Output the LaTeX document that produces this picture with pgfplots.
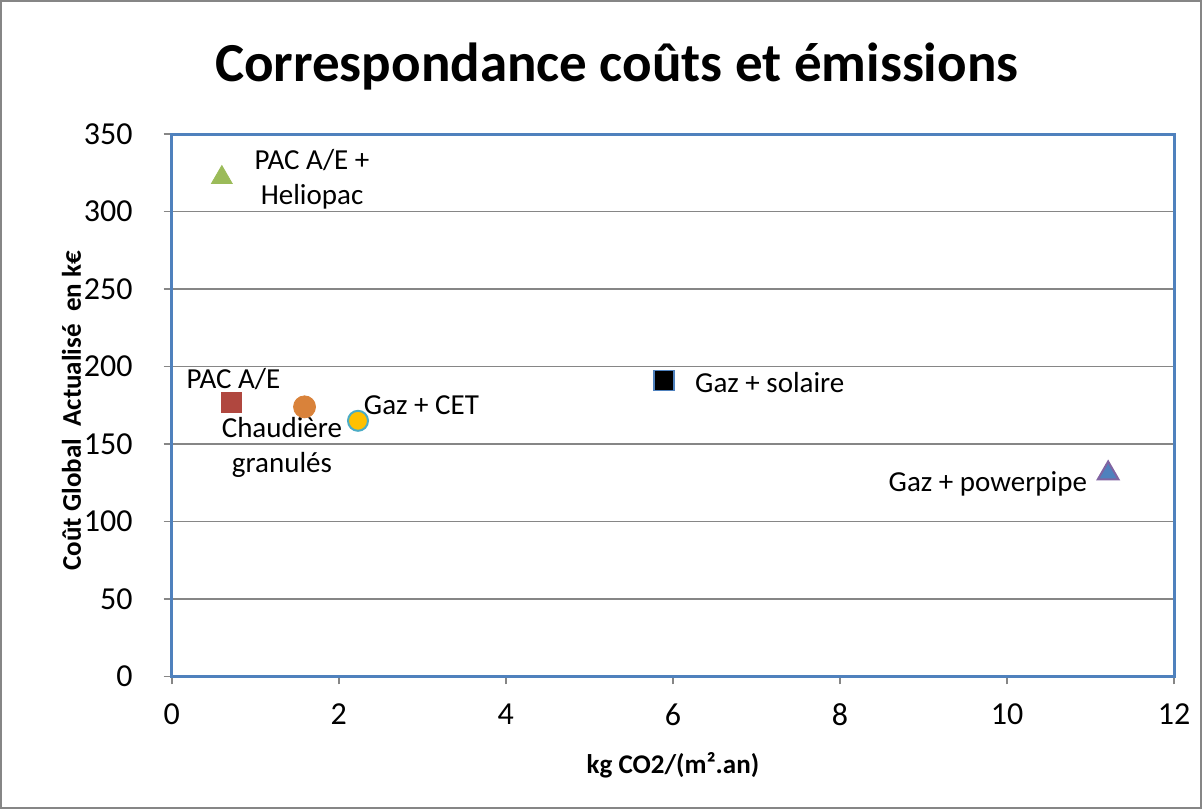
\documentclass[border=0pt]{standalone}
\usepackage{pgfplots}
\pgfplotsset{compat=1.18}
\usepackage{fontspec}
\setmainfont{Carlito}
\definecolor{frameblue}{HTML}{4F81BD}
\definecolor{gridgray}{HTML}{868686}
\definecolor{sgreen}{HTML}{9BBB59}
\definecolor{sred}{HTML}{B0473F}
\definecolor{sorange}{HTML}{D9823A}
\definecolor{syellow}{HTML}{FFC000}
\definecolor{steal}{HTML}{4BACC6}
\definecolor{spurple}{HTML}{8064A2}
\begin{document}
\begin{tikzpicture}
\begin{axis}[
  scale only axis,
  width=501pt, height=271pt,
  xmin=0, xmax=12, ymin=0, ymax=350,
  xtick={0,2,...,12}, ytick={0,50,...,350},
  xtick pos=bottom, ytick pos=left,
  ymajorgrids,
  grid style={line width=0.8pt, color=gridgray},
  axis line style={frameblue, line width=1.5pt},
  tick align=outside, major tick length=4pt,
  tick style={gridgray, line width=0.8pt},
  ticklabel style={font=\fontsize{16}{18}\selectfont},
  xticklabel style={yshift=-6pt},
  yticklabel style={xshift=-12pt},
  /pgf/number format/assume math mode=true,
  clip=false,
  xlabel={kg CO2/(m².an)},
  ylabel={Coût Global\ \ Actualisé\ \ en k€},
  label style={font=\bfseries\fontsize{13.5}{16}\selectfont},
  xlabel style={at={(rel axis cs:0.5,-0.164)}, anchor=center},
  ylabel style={at={(rel axis cs:-0.1,0.49)}, anchor=center},
  mark options={solid},
]
\addplot[only marks, mark=triangle*, mark size=6pt, color=sgreen] coordinates {(0.60,322)};
\addplot[only marks, mark=square*, mark size=5pt, color=sred] coordinates {(0.72,177)};
\addplot[only marks, mark=*, mark size=5.5pt, color=sorange] coordinates {(1.59,174)};
\addplot[only marks, mark=*, mark size=5pt, draw=steal, fill=syellow, line width=1pt] coordinates {(2.23,165)};
\addplot[only marks, mark=square*, mark size=5pt, draw=frameblue, fill=black, line width=0.8pt] coordinates {(5.89,191)};
\addplot[only marks, mark=triangle*, mark size=6pt, draw=spurple, fill=frameblue, line width=1pt] coordinates {(11.21,131)};

\begin{scope}[every node/.style={font=\fontsize{14.5}{17.5}\selectfont, align=center}]
\node at (axis cs:1.68,321) {PAC A/E +\\Heliopac};
\node at (axis cs:0.74,192) {PAC A/E};
\node at (axis cs:1.32,148) {Chaudière\\granulés};
\node at (axis cs:2.99,175) {Gaz + CET};
\node at (axis cs:7.16,190) {Gaz + solaire};
\node at (axis cs:9.77,124) {Gaz + powerpipe};
\end{scope}
\node[font=\bfseries\fontsize{27.5}{32}\selectfont] at (rel axis cs:0.444,1.124) {Correspondance coûts et émissions};
\draw[gridgray, line width=0.8pt] (rel axis cs:-0.1705,-0.2425) rectangle (rel axis cs:1.027,1.246);
\end{axis}
\end{tikzpicture}
\end{document}
